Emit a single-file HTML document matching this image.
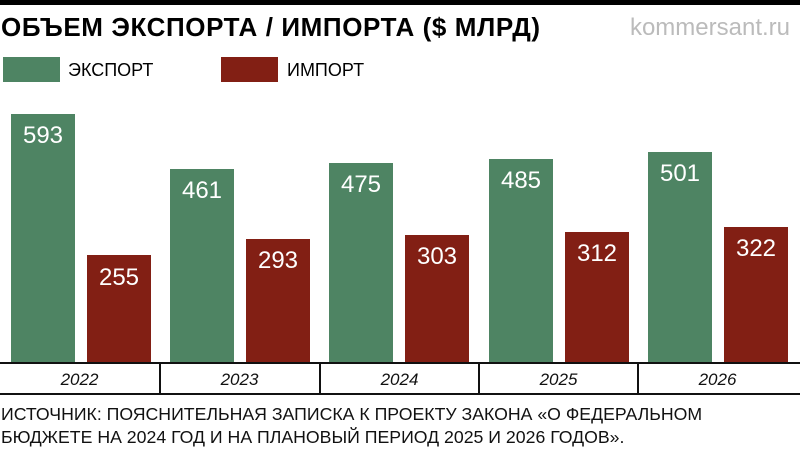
<!DOCTYPE html>
<html><head><meta charset="utf-8"><style>
body{margin:0;width:800px;height:450px;background:#fff;position:relative;overflow:hidden;font-family:"Liberation Sans",Arial,sans-serif}
.a{position:absolute}
.b{position:absolute;width:64px}
.g{background:#4e8463}.r{background:#821f14}
.v{position:absolute;width:64px;text-align:center;color:#fff;font-size:24px;line-height:24px}
.y{position:absolute;top:370px;width:159px;text-align:center;font-style:italic;font-size:17px;line-height:20px;color:#111}
</style></head><body>
<div class="a" style="left:0;top:0;width:800px;height:5px;background:#000"></div>
<div class="a" style="left:1px;top:11px;font-size:26px;font-weight:bold;line-height:32px;letter-spacing:0.6px">ОБЪЕМ ЭКСПОРТА / ИМПОРТА ($ МЛРД)</div>
<div class="a" style="right:10px;top:13px;font-size:24px;color:#bbb;line-height:30px">kommersant.ru</div>
<div class="a g" style="left:3px;top:57px;width:57px;height:25px"></div>
<div class="a" style="left:68px;top:59px;font-size:18px;line-height:22px">ЭКСПОРТ</div>
<div class="a r" style="left:221px;top:57px;width:57px;height:25px"></div>
<div class="a" style="left:287px;top:59px;font-size:18px;line-height:22px">ИМПОРТ</div>

<div class="b g" style="left:11px;top:114px;height:248px"></div><div class="v" style="left:11px;top:124px">593</div>
<div class="b r" style="left:87px;top:255px;height:107px"></div><div class="v" style="left:87px;top:266px">255</div>
<div class="b g" style="left:170px;top:169px;height:193px"></div><div class="v" style="left:170px;top:179px">461</div>
<div class="b r" style="left:246px;top:239px;height:123px"></div><div class="v" style="left:246px;top:249px">293</div>
<div class="b g" style="left:329px;top:163px;height:199px"></div><div class="v" style="left:329px;top:173px">475</div>
<div class="b r" style="left:405px;top:235px;height:127px"></div><div class="v" style="left:405px;top:245px">303</div>
<div class="b g" style="left:489px;top:159px;height:203px"></div><div class="v" style="left:489px;top:169px">485</div>
<div class="b r" style="left:565px;top:232px;height:130px"></div><div class="v" style="left:565px;top:242px">312</div>
<div class="b g" style="left:648px;top:152px;height:210px"></div><div class="v" style="left:648px;top:162px">501</div>
<div class="b r" style="left:724px;top:227px;height:135px"></div><div class="v" style="left:724px;top:237px">322</div>

<div class="a" style="left:0;top:362px;width:800px;height:2px;background:#111"></div>
<div class="a" style="left:0;top:393px;width:800px;height:2px;background:#111"></div>
<div class="a" style="left:159px;top:362px;width:2px;height:33px;background:#111"></div>
<div class="a" style="left:319px;top:362px;width:2px;height:33px;background:#111"></div>
<div class="a" style="left:478px;top:362px;width:2px;height:33px;background:#111"></div>
<div class="a" style="left:637px;top:362px;width:2px;height:33px;background:#111"></div>
<div class="y" style="left:0">2022</div>
<div class="y" style="left:160px">2023</div>
<div class="y" style="left:320px">2024</div>
<div class="y" style="left:479px">2025</div>
<div class="y" style="left:638px">2026</div>
<div class="a" style="left:1px;top:403px;font-size:17.7px;line-height:23px;color:#111">ИСТОЧНИК: ПОЯСНИТЕЛЬНАЯ ЗАПИСКА К ПРОЕКТУ ЗАКОНА «О ФЕДЕРАЛЬНОМ<br>БЮДЖЕТЕ НА 2024 ГОД И НА ПЛАНОВЫЙ ПЕРИОД 2025 И 2026 ГОДОВ».</div>
</body></html>
